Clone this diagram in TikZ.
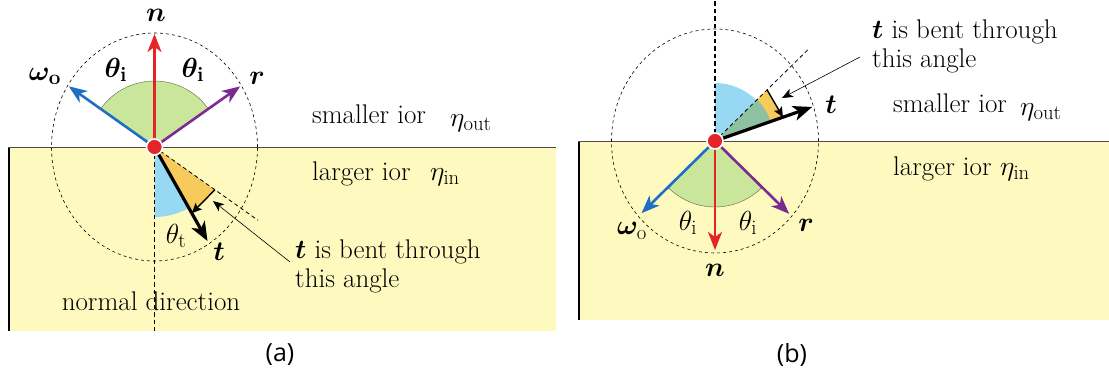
\documentclass[tikz,border=0pt]{standalone}
\usepackage{fix-cm}
\usepackage{bm}
\usepackage{fontspec}
\newfontfamily\capfont{Open Sans}
\usetikzlibrary{arrows.meta,calc}
\definecolor{nred}{HTML}{E52428}
\definecolor{nblue}{HTML}{1E6FC4}
\definecolor{npurple}{HTML}{7B2A90}
\definecolor{ngreen}{HTML}{C9E69B}
\definecolor{lblue}{HTML}{97D9F2}
\definecolor{norange}{HTML}{F7CB5B}
\definecolor{nyellow}{HTML}{FDF9BF}
\definecolor{nteal}{HTML}{8EC1A2}
\newcommand\sbs[1]{_{\mbox{\fontsize{18}{18}\selectfont #1}}}
\begin{document}
\begin{tikzpicture}[x=1pt,y=1pt,
  mytxt/.style={font=\fontsize{27}{31}\selectfont, inner sep=0pt},
  mymath/.style={font=\fontsize{24}{28}\selectfont, inner sep=0pt, scale=1.15},
  myvec/.style={line width=2.6pt, -{Stealth[length=18pt,width=14pt,inset=5pt]}},
  mytvec/.style={line width=3.2pt, -{Stealth[length=19pt,width=15pt,inset=5pt]}},
  bentarrow/.style={line width=1.4pt, -{Stealth[length=10pt,width=9pt,inset=2pt]}},
  mynote/.style={line width=0.6pt, -{Stealth[length=11pt,width=9pt,inset=3pt]}},
  mycirc/.style={line width=0.6pt, dash pattern=on 3pt off 3pt},
  myray/.style={line width=0.8pt, dash pattern=on 4pt off 3pt},
  myaxis/.style={line width=1.3pt, dash pattern=on 4.5pt off 3pt},
  mydot/.style={circle, fill=nred, draw=white, line width=1.6pt, minimum size=16pt, inner sep=0pt},
  mysurf/.style={gray!60!black, line width=0.8pt}]
\useasboundingbox (0,0) rectangle (1109,373);

% ---------------- panel (a) ----------------
\coordinate (C1) at (154.5,226);
\fill[nyellow] (8,42) rectangle (556,226);
\draw[line width=1.3pt] (9,42) -- (9,226);
\draw[mysurf] (8,226) -- (556,226);

\fill[ngreen] (C1) -- ++(35.3:66) arc[start angle=35.3, end angle=144.7, radius=66] -- cycle;
\draw[ngreen!45!black, line width=0.4pt] ($(C1)+(35.3:66)$) arc[start angle=35.3, end angle=144.7, radius=66];
\fill[lblue] (C1) -- ++(270:70) arc[start angle=270, end angle=299.4, radius=70] -- cycle;
\coordinate (oa1) at ($(C1)+(-35.3:74)$);
\coordinate (oa2) at ($(C1)+(-60.6:76)$);
\fill[norange] (C1) -- (oa1) -- (oa2) -- cycle;

\draw[mycirc] (C1) ellipse[x radius=103, y radius=114];
\coordinate (ra) at ($(C1)+(-35.3:127)$);
\draw[myray] (C1) -- (ra);
\coordinate (na) at (154.5,42);
\draw[myaxis] (C1) -- (na);

\coordinate (nA) at ($(C1)+(0,113)$);
\coordinate (wA) at ($(C1)+(144.7:105)$);
\coordinate (rA) at ($(C1)+(35.3:105)$);
\coordinate (tA) at ($(C1)+(-60.6:108)$);
\draw[myvec, nred] (C1) -- (nA);
\draw[myvec, nblue] (C1) -- (wA);
\draw[myvec, npurple] (C1) -- (rA);
\draw[mytvec] (C1) -- (tA);
\draw[bentarrow] (oa1) -- (oa2);
\coordinate (ta) at (290,111);
\coordinate (tb) at (213,172);
\draw[mynote] (ta) -- (tb);
\node[mydot] (d1) at (C1) {};

\node[mymath] (ln1) at (156,358) {$\bm{n}$};
\node[mymath] (lw1) at (45,297) {$\bm{\omega}\sbs{\bfseries o}$};
\node[mymath] (lr1) at (257,295) {$\bm{r}$};
\node[mymath] (th1) at (116,303) {$\bm{\theta}\sbs{\bfseries i}$};
\node[mymath] (th2) at (193,303) {$\bm{\theta}\sbs{\bfseries i}$};
\node[mymath] (tt1) at (176,137) {$\theta\sbs{t}$};
\node[mymath] (lt1) at (219,121) {$\bm{t}$};
\node[mytxt, anchor=base west] (b1) at (295,115) {$\bm{t}$ is bent through};
\node[mytxt, anchor=base west] (b2) at (295,86) {this angle};
\node[mytxt, anchor=base west] (s1) at (312,249) {smaller ior};
\node[mymath, anchor=base west] (e1) at (450,247) {$\eta\sbs{out}$};
\node[mytxt, anchor=base west] (s2) at (312,193) {larger ior};
\node[mymath, anchor=base west] (e2) at (430,193) {$\eta\sbs{in}$};
\node[mytxt, anchor=base] (nd) at (151,63) {normal direction};
\node[inner sep=0pt, font=\capfont\fontsize{25}{28}\selectfont] (capa) at (280,18) {(a)};

% ---------------- panel (b) ----------------
\coordinate (C2) at (715,232);
\fill[nyellow] (578,53) rectangle (1109,232);
\draw[line width=1.3pt] (579,53) -- (579,232);
\draw[mysurf] (578,232) -- (1109,232);

\fill[ngreen] (C2) -- ++(224.5:66) arc[start angle=224.5, end angle=315.5, radius=66] -- cycle;
\draw[ngreen!45!black, line width=0.4pt] ($(C2)+(224.5:66)$) arc[start angle=224.5, end angle=315.5, radius=66];
\coordinate (ob1) at ($(C2)+(44.5:73)$);
\coordinate (ob2) at ($(C2)+(19.3:72)$);
\fill[norange] (C2) -- (ob1) -- (ob2) -- cycle;
\fill[nteal] (C2) -- ++(19.3:59) arc[start angle=19.3, end angle=44.5, radius=59] -- cycle;
\fill[lblue] (C2) -- ++(44.5:58) arc[start angle=44.5, end angle=90, radius=58] -- cycle;

\draw[mycirc] (C2) ellipse[x radius=103.5, y radius=112];
\coordinate (rb) at ($(C2)+(44.5:132)$);
\draw[myray] (C2) -- (rb);
\coordinate (nb) at (715,373);
\draw[myaxis] (C2) -- (nb);

\coordinate (nB) at ($(C2)+(0,-109)$);
\coordinate (wB) at ($(C2)+(224.5:103)$);
\coordinate (rB) at ($(C2)+(315.5:104)$);
\coordinate (tB) at ($(C2)+(19.3:103)$);
\draw[myvec, nred] (C2) -- (nB);
\draw[myvec, nblue] (C2) -- (wB);
\draw[myvec, npurple] (C2) -- (rB);
\draw[mytvec] (C2) -- (tB);
\draw[bentarrow] (ob1) -- (ob2);
\coordinate (tc) at (860,316);
\coordinate (td) at (782,275);
\draw[mynote] (tc) -- (td);
\node[mydot] (d2) at (C2) {};

\node[mymath] (ln2) at (715,103) {$\bm{n}$};
\node[mymath] (lw2) at (632,142) {$\bm{\omega}\sbs{o}$};
\node[mymath] (lr2) at (806,148) {$\bm{r}$};
\node[mymath] (th3) at (688,150) {$\theta\sbs{i}$};
\node[mymath] (th4) at (748,150) {$\theta\sbs{i}$};
\node[mymath] (lt2) at (831,268) {$\bm{t}$};
\node[mytxt, anchor=base west] (b3) at (872,334) {$\bm{t}$ is bent through};
\node[mytxt, anchor=base west] (b4) at (872,305) {this angle};
\node[mytxt, anchor=base west] (s3) at (893,260) {smaller ior};
\node[mymath, anchor=base west] (e3) at (1020,258) {$\eta\sbs{out}$};
\node[mytxt, anchor=base west] (s4) at (893,198) {larger ior};
\node[mymath, anchor=base west] (e4) at (1000,198) {$\eta\sbs{in}$};
\node[inner sep=0pt, font=\capfont\fontsize{25}{28}\selectfont] (capb) at (792,18) {(b)};
\end{tikzpicture}
\end{document}
